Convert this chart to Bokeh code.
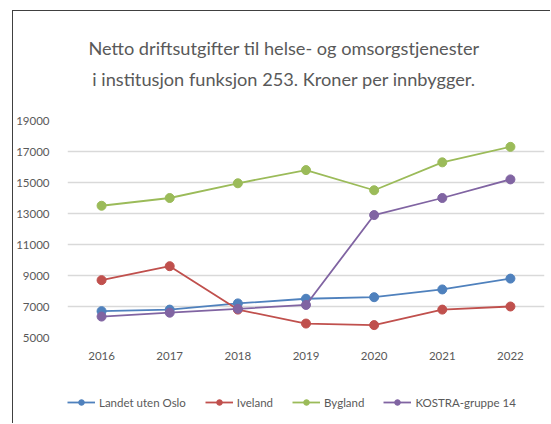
from bokeh.plotting import figure
from bokeh.models import Legend, LegendItem, Label, Range1d
from bokeh.layouts import column
from bokeh.embed import file_html
from bokeh.resources import INLINE

years = [2016, 2017, 2018, 2019, 2020, 2021, 2022]
landet = [6700, 6800, 7200, 7500, 7600, 8100, 8800]
iveland = [8700, 9600, 6800, 5900, 5800, 6800, 7000]
bygland = [13500, 14000, 14950, 15800, 14500, 16300, 17300]
kostra = [6350, 6600, 6850, 7100, 12900, 14000, 15200]
y_ticks = [5000, 7000, 9000, 11000, 13000, 15000, 17000, 19000]
series_names = ["Landet uten Oslo", "Iveland", "Bygland", "KOSTRA-gruppe 14"]
series_values = [landet, iveland, bygland, kostra]
series_colors = ["#4F81BD", "#C0504D", "#9BBB59", "#8064A2"]
title_lines = ["Netto driftsutgifter til helse- og omsorgstjenester",
               "i institusjon funksjon 253. Kroner per innbygger."]

FONT = "Lato"
TXT = "#595959"
W = 537
H_TITLE, H_MAIN, H_LEG = 101, 273, 38
LEFT, RIGHT = 54, 6
# page x of the (column-aligned) frames
PX0 = 12 + LEFT
PX1 = 12 + W - RIGHT


def bare(fig):
    fig.outline_line_color = None
    fig.background_fill_color = "white"
    fig.border_fill_color = "white"
    return fig


# --- title strip ---
pt = bare(figure(width=W, height=H_TITLE, output_backend="svg", toolbar_location=None,
                 x_range=Range1d(PX0, PX1), y_range=Range1d(0, H_TITLE),
                 x_axis_type=None, y_axis_type=None,
                 min_border_left=LEFT, min_border_right=RIGHT,
                 min_border_top=0, min_border_bottom=0))
pt.grid.visible = False
for t, y in zip(title_lines, [65, 34]):
    pt.add_layout(Label(x=282.5, y=y, text=t, text_align="center",
                        text_baseline="middle", text_font=FONT,
                        text_font_size="18.2px", text_color=TXT))

# --- main chart ---
p = bare(figure(width=W, height=H_MAIN, output_backend="svg", toolbar_location=None,
                x_range=Range1d(2015.5, 2022.5), y_range=Range1d(5000, 19000),
                min_border_left=LEFT, min_border_right=RIGHT, min_border_top=8,
                min_border_bottom=48))
p.xgrid.grid_line_color = None
p.ygrid.grid_line_color = "#D9D9D9"
p.ygrid.grid_line_width = 1.3
p.xaxis.ticker = years
p.yaxis.ticker = y_ticks
for ax in (p.xaxis, p.yaxis):
    ax.axis_line_color = None
    ax.major_tick_line_color = None
    ax.minor_tick_line_color = None
    ax.major_label_text_font = FONT
    ax.major_label_text_font_size = "11.5px"
    ax.major_label_text_color = TXT
p.xaxis.major_label_standoff = 8
p.yaxis.major_label_standoff = 12

for vals, col in zip(series_values, series_colors):
    p.line(years, vals, line_color=col, line_width=1.8)
    p.scatter(years, vals, size=9, fill_color=col, line_color=col)

# --- legend strip ---
pl = bare(figure(width=W, height=H_LEG, output_backend="svg", toolbar_location=None,
                 x_range=Range1d(0, 1), y_range=Range1d(0, 1),
                 x_axis_type=None, y_axis_type=None,
                 min_border_left=LEFT, min_border_right=RIGHT,
                 min_border_top=0, min_border_bottom=0))
pl.grid.visible = False
items = []
for name, col in zip(series_names, series_colors):
    ln = pl.line([-5, -4], [-5, -4], line_color=col, line_width=1.8)
    sc = pl.scatter([-5], [-5], size=9, fill_color=col, line_color=col)
    items.append(LegendItem(label=name, renderers=[ln, sc]))
legend = Legend(items=items, orientation="horizontal", location=(0, 14),
                glyph_width=28, glyph_height=14, label_height=14,
                label_standoff=4, spacing=19, padding=0, margin=0,
                label_text_font=FONT, label_text_font_size="11.5px",
                label_text_color=TXT, border_line_color=None,
                background_fill_alpha=0)
pl.add_layout(legend, "center")

layout = column(pt, p, pl, spacing=0)
layout.margin = (10, 0, 0, 12)
layout.styles = {"border-left": "1px solid #404040", "border-top": "1px solid #404040"}

open("out.html", "w").write(file_html(layout, INLINE))
